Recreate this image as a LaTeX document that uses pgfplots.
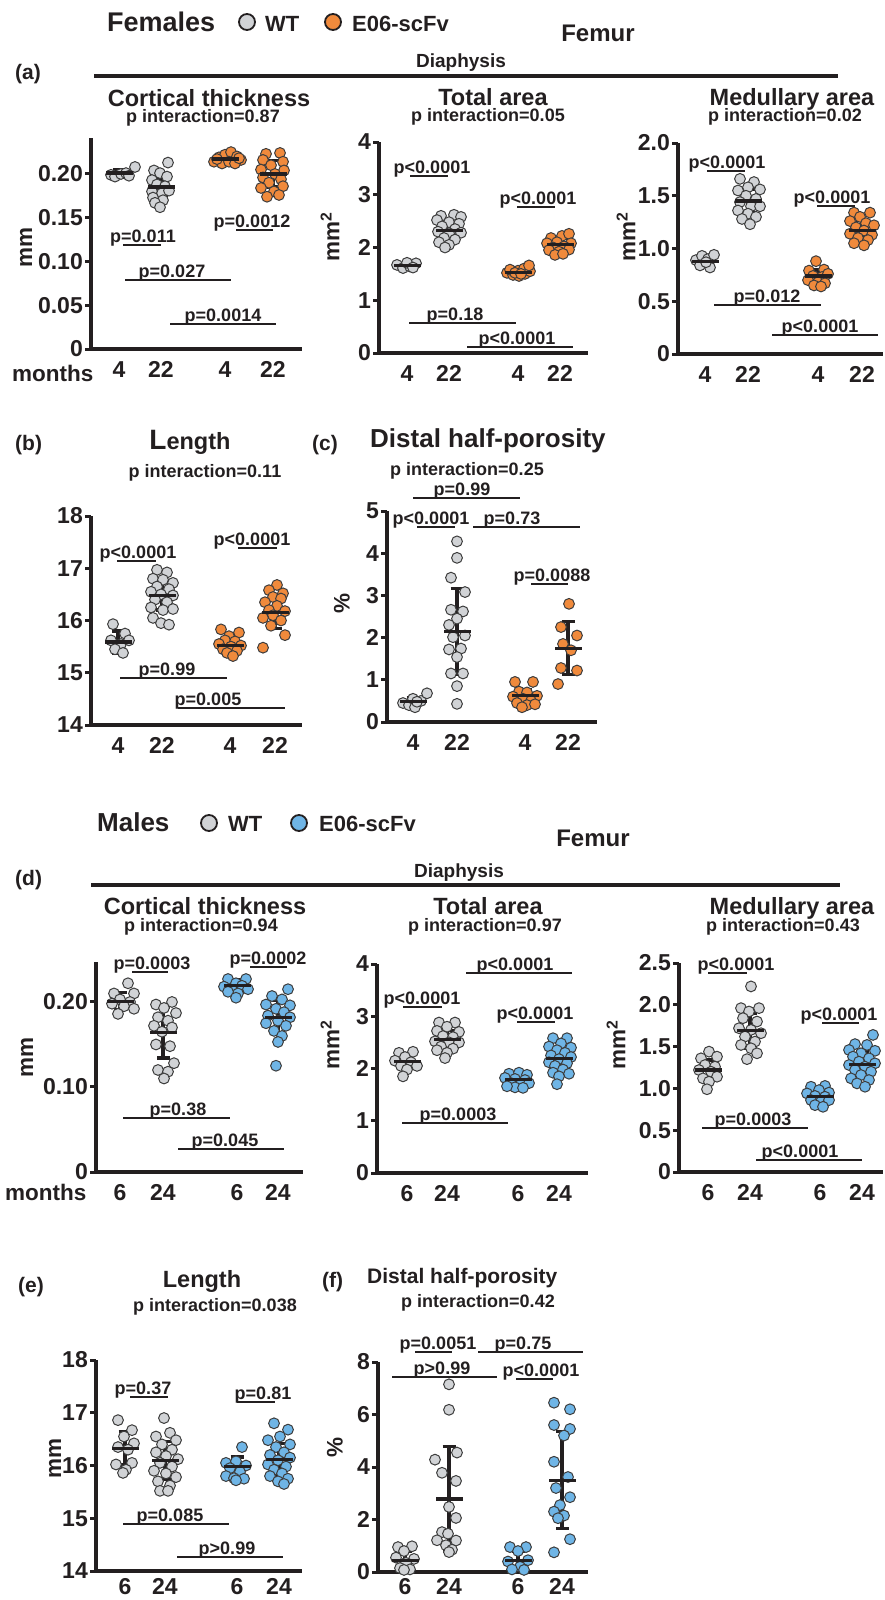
\documentclass[border=0pt]{standalone}
\usepackage{pgfplots}
\pgfplotsset{compat=1.18}
\usepackage{fontspec}
\setmainfont{Liberation Sans}
\definecolor{ink}{HTML}{231F20}
\definecolor{wtgray}{HTML}{D1D3D6}
\definecolor{orng}{HTML}{F08A3C}
\definecolor{lblue}{HTML}{6FB5E6}
\definecolor{edge}{HTML}{3C3C3C}
\newcommand\fs[1]{\fontsize{#1}{#1}\selectfont\bfseries}
\pgfplotsset{
 base/.style={
  scale only axis, clip=false, xmin=0,
  axis x line*=bottom, axis y line*=left,
  axis line style={line width=3.2pt, ink},
  tick align=outside, major tick length=6pt,
  tick style={ink, line width=3pt},
  xtick style={draw=none},
  tick label style={font=\fs{23}, text=ink},
  yticklabel style={inner sep=0pt, xshift=-2pt, anchor=east},
  xticklabel style={inner sep=0pt, anchor=base, yshift=-22pt},
  /pgf/number format/assume math mode=true,
 },
 wt/.style={only marks, mark=*, mark size=5.4pt, mark options={fill=wtgray, draw=edge, line width=1pt}},
 eo/.style={only marks, mark=*, mark size=5.4pt, mark options={fill=orng, draw=edge, line width=1pt}},
 eb/.style={only marks, mark=*, mark size=5.4pt, mark options={fill=lblue, draw=edge, line width=1pt}},
}
\tikzset{
 t/.style={inner sep=0pt, text=ink, anchor=base},
 ptext/.style={inner sep=0pt, text=ink, anchor=base, yshift=2.5pt, font=\fs{18}},
 leg/.style={circle, draw=ink, line width=1.8pt, minimum size=16pt, inner sep=0pt},
 yl/.style={inner sep=0pt, text=ink, rotate=90, font=\fs{22.5}},
}
\newcommand\msd[3]{\addplot[ink, only marks, mark=-, mark size=13.5pt, mark options={line width=3.2pt, ink}, error bars/.cd, y dir=both, y explicit, error bar style={line width=3.2pt, ink}, error mark options={rotate=90, mark size=6.5pt, line width=3.2pt, ink}] coordinates {(#1,#2) +- (0,#3)};}
\newcommand\sig[5]{\addplot[ink, line width=2pt] coordinates {(#1,#3) (#2,#3)}; \node[ptext] at (axis cs:#4,#3) {#5};}

\begin{document}
\begin{tikzpicture}
\path[use as bounding box] (0pt,0pt) rectangle (885pt,-1600pt);

% ---------------- Female header ----------------
\node[t, anchor=base west, font=\fs{27}] at (107pt,-32pt) {Females};
\node[leg, fill=wtgray] at (247pt,-22pt) {};
\node[t, anchor=base west, font=\fs{22}] at (265pt,-32pt) {WT};
\node[leg, fill=orng] at (333pt,-22pt) {};
\node[t, anchor=base west, font=\fs{22}] at (352pt,-32pt) {E06-scFv};
\node[t, font=\fs{24}] at (598pt,-42pt) {Femur};
\node[t, font=\fs{19}] at (461pt,-68pt) {Diaphysis};
\draw[ink, line width=3.2pt] (94pt,-76pt) -- (838pt,-76pt);
\node[t, anchor=base west, font=\fs{21}] at (15pt,-80pt) {(a)};
\node[t, font=\fs{23.5}] at (209pt,-107pt) {Cortical thickness};
\node[t, font=\fs{18}] at (203pt,-123pt) {p interaction=0.87};
\node[t, font=\fs{23.5}] at (493pt,-106pt) {Total area};
\node[t, font=\fs{18}] at (488pt,-122pt) {p interaction=0.05};
\node[t, font=\fs{23.5}] at (792pt,-106pt) {Medullary area};
\node[t, font=\fs{18}] at (785pt,-122pt) {p interaction=0.02};
\node[yl] at (26pt,-247pt) {mm};
\node[yl] at (330pt,-237pt) {mm\textsuperscript{2}};
\node[yl] at (626pt,-237pt) {mm\textsuperscript{2}};
\node[t, anchor=base west, font=\fs{22.5}] at (12pt,-381pt) {months};

% (a) cortical thickness
\begin{axis}[base, at={(91pt,-349pt)}, width=211pt, height=211pt, xmax=211, ymin=0, ymax=0.2411,
 ytick={0,0.05,0.1,0.15,0.2}, yticklabels={0,0.05,0.10,0.15,0.20}, xtick={28,70,134,182}, xticklabels={4,22,4,22}]
\addplot[wt] coordinates {(20,0.199) (24,0.197) (30,0.200) (35,0.201) (38,0.198) (44,0.208)};
\addplot[wt] coordinates {(77,0.213) (63,0.204) (69,0.201) (76,0.197) (61,0.193) (66,0.188) (74,0.186) (61,0.180) (71,0.178) (78,0.181) (62,0.173) (72,0.170) (64,0.167) (69,0.162)};
\addplot[eo] coordinates {(123,0.214) (128,0.219) (134,0.222) (140,0.225) (146,0.220) (150,0.216) (131,0.212) (138,0.214) (144,0.212) (126,0.217) (148,0.218)};
\addplot[eo] coordinates {(175,0.223) (189,0.224) (172,0.216) (192,0.214) (180,0.210) (170,0.205) (193,0.204) (184,0.200) (172,0.196) (190,0.194) (178,0.190) (192,0.186) (170,0.184) (183,0.180) (176,0.174) (188,0.176)};
\msd{28}{0.201}{0.004}\msd{70}{0.185}{0.0115}\msd{134}{0.217}{0.004}\msd{182}{0.200}{0.015}
\sig{32}{70}{0.119}{52}{p=0.011}
\sig{145}{182}{0.136}{161}{p=0.0012}
\sig{34}{140}{0.079}{81}{p=0.027}
\sig{79}{185}{0.029}{132}{p=0.0014}
\end{axis}

% (a) total area
\begin{axis}[base, at={(379pt,-353pt)}, width=209pt, height=211pt, xmax=209, ymin=0, ymax=4,
 ytick={0,1,2,3,4}, yticklabels={0,1,2,3,4}, xtick={28,70,139,181}, xticklabels={4,22,4,22}]
\addplot[wt] coordinates {(18,1.67) (24,1.61) (31,1.64) (37,1.70) (28,1.71) (34,1.62)};
\addplot[wt] coordinates {(62,2.60) (75,2.62) (82,2.58) (58,2.52) (70,2.48) (80,2.45) (63,2.40) (76,2.35) (59,2.30) (70,2.27) (82,2.28) (65,2.18) (76,2.15) (60,2.10) (70,2.05) (66,2.00)};
\addplot[eo] coordinates {(128,1.52) (134,1.48) (140,1.46) (146,1.50) (151,1.55) (131,1.58) (139,1.56) (145,1.60) (150,1.66) (136,1.52) (142,1.50)};
\addplot[eo] coordinates {(172,2.18) (183,2.22) (190,2.26) (168,2.08) (178,2.10) (192,2.08) (174,2.00) (185,2.02) (170,1.95) (180,1.92) (190,1.96) (176,1.86) (184,1.88)};
\msd{28}{1.66}{0.04}\msd{70}{2.32}{0.14}\msd{139}{1.52}{0.06}\msd{181}{2.05}{0.12}
\sig{31}{69}{3.36}{53}{p<0.0001}
\sig{138}{176}{2.77}{159}{p<0.0001}
\sig{30}{137}{0.57}{76}{p=0.18}
\sig{88}{194}{0.12}{138}{p<0.0001}
\end{axis}

% (a) medullary area
\begin{axis}[base, at={(678pt,-354pt)}, width=205pt, height=211pt, xmax=205, ymin=0, ymax=2,
 ytick={0,0.5,1,1.5,2}, yticklabels={0,0.5,1.0,1.5,2.0}, xtick={27,70,140,184}, xticklabels={4,22,4,22}]
\addplot[wt] coordinates {(18,0.89) (24,0.93) (30,0.90) (36,0.94) (22,0.84) (32,0.82) (28,0.87)};
\addplot[wt] coordinates {(62,1.66) (76,1.63) (70,1.58) (82,1.56) (60,1.55) (68,1.50) (78,1.47) (62,1.44) (73,1.40) (82,1.40) (60,1.36) (70,1.33) (78,1.30) (64,1.28) (72,1.23)};
\addplot[eo] coordinates {(138,0.88) (131,0.79) (146,0.80) (135,0.74) (144,0.73) (150,0.76) (130,0.70) (140,0.68) (147,0.67) (136,0.65) (143,0.64)};
\addplot[eo] coordinates {(176,1.34) (192,1.34) (182,1.30) (172,1.26) (188,1.24) (196,1.22) (178,1.20) (186,1.17) (172,1.14) (194,1.13) (180,1.10) (190,1.08) (176,1.05) (186,1.03)};
\msd{27}{0.88}{0.04}\msd{70}{1.45}{0.11}\msd{140}{0.74}{0.06}\msd{184}{1.17}{0.095}
\sig{29}{67}{1.73}{49}{p<0.0001}
\sig{139}{177}{1.40}{154}{p<0.0001}
\sig{36}{143}{0.46}{89}{p=0.012}
\sig{94}{200}{0.18}{142}{p<0.0001}
\end{axis}

% ---------------- Row b / c ----------------
\node[t, anchor=base west, font=\fs{21}] at (15pt,-450pt) {(b)};
\node[t] at (190pt,-449pt) {\fs{28}L\fs{23.5}ength};
\node[t, font=\fs{18}] at (205pt,-477pt) {p interaction=0.11};
\node[t, anchor=base west, font=\fs{21}] at (312pt,-450pt) {(c)};
\node[t, anchor=base west, font=\fs{26}] at (370pt,-447pt) {Distal half-porosity};
\node[t, font=\fs{18}] at (467pt,-475pt) {p interaction=0.25};
\node[yl] at (342pt,-603pt) {\%};

\begin{axis}[base, at={(91pt,-725pt)}, width=211pt, height=209pt, xmax=211, ymin=14, ymax=18,
 ytick={14,15,16,17,18}, yticklabels={14,15,16,17,18}, xtick={27,71,139,184}, xticklabels={4,22,4,22}]
\addplot[wt] coordinates {(22,15.93) (34,15.75) (20,15.62) (30,15.55) (38,15.62) (24,15.45) (32,15.38)};
\addplot[wt] coordinates {(66,16.97) (76,16.92) (62,16.80) (72,16.78) (82,16.72) (66,16.65) (78,16.60) (60,16.55) (70,16.50) (82,16.48) (64,16.40) (76,16.35) (60,16.25) (72,16.20) (82,16.22) (62,16.05) (70,15.95) (78,15.92)};
\addplot[eo] coordinates {(130,15.83) (148,15.77) (138,15.70) (134,15.62) (144,15.60) (128,15.55) (140,15.50) (150,15.52) (132,15.45) (146,15.42) (136,15.38) (142,15.32)};
\addplot[eo] coordinates {(186,16.68) (178,16.58) (192,16.52) (182,16.45) (190,16.42) (174,16.35) (186,16.28) (178,16.20) (194,16.18) (182,16.10) (172,16.05) (190,16.00) (180,15.90) (194,15.72) (172,15.48)};
\msd{27}{15.59}{0.21}\msd{71}{16.48}{0.28}\msd{139}{15.52}{0.18}\msd{184}{16.16}{0.32}
\sig{26}{65}{17.14}{47}{p<0.0001}
\sig{147}{186}{17.39}{161}{p<0.0001}
\sig{29}{136}{14.9}{76}{p=0.99}
\sig{87}{194}{14.33}{117}{p=0.005}
\end{axis}

\begin{axis}[base, at={(387pt,-722pt)}, width=210pt, height=211pt, xmax=210, ymin=0, ymax=5,
 ytick={0,1,2,3,4,5}, yticklabels={0,1,2,3,4,5}, xtick={26,70,138,181}, xticklabels={4,22,4,22}]
\addplot[wt] coordinates {(16,0.45) (22,0.40) (28,0.35) (34,0.50) (40,0.68) (26,0.55) (30,0.48)};
\addplot[wt] coordinates {(70,4.28) (70,3.89) (64,3.42) (78,3.08) (64,2.66) (76,2.62) (70,2.45) (62,2.30) (78,2.05) (66,2.01) (74,1.74) (62,1.72) (70,1.54) (64,1.15) (76,1.15) (70,0.85) (70,0.43)};
\addplot[eo] coordinates {(128,0.95) (146,0.95) (132,0.72) (140,0.70) (150,0.62) (126,0.60) (136,0.55) (144,0.50) (130,0.45) (140,0.40) (148,0.42) (135,0.35)};
\addplot[eo] coordinates {(182,2.80) (174,2.25) (190,2.05) (176,1.85) (184,1.70) (190,1.22) (174,1.28) (171,0.90)};
\msd{26}{0.48}{0.095}\msd{70}{2.15}{1.02}\msd{138}{0.62}{0.15}\msd{181}{1.75}{0.63}
\sig{30}{68}{4.62}{44}{p<0.0001}
\sig{86}{193}{4.62}{125}{p=0.73}
\sig{26}{133}{5.31}{75}{p=0.99}
\sig{144}{181}{3.27}{165}{p=0.0088}
\end{axis}

% ---------------- Male header ----------------
\node[t, anchor=base west, font=\fs{26}] at (97pt,-831pt) {Males};
\node[leg, fill=wtgray] at (209pt,-823pt) {};
\node[t, anchor=base west, font=\fs{22}] at (228pt,-831pt) {WT};
\node[leg, fill=lblue] at (299pt,-823pt) {};
\node[t, anchor=base west, font=\fs{22}] at (319pt,-831pt) {E06-scFv};
\node[t, font=\fs{24}] at (593pt,-846pt) {Femur};
\node[t, font=\fs{19}] at (459pt,-877pt) {Diaphysis};
\draw[ink, line width=3.2pt] (91pt,-885pt) -- (840pt,-885pt);
\node[t, anchor=base west, font=\fs{21}] at (15pt,-885pt) {(d)};
\node[t, font=\fs{23.5}] at (205pt,-914pt) {Cortical thickness};
\node[t, font=\fs{18}] at (201pt,-931pt) {p interaction=0.94};
\node[t, font=\fs{23.5}] at (488pt,-914pt) {Total area};
\node[t, font=\fs{18}] at (485pt,-931pt) {p interaction=0.97};
\node[t, font=\fs{23.5}] at (792pt,-914pt) {Medullary area};
\node[t, font=\fs{18}] at (783pt,-931pt) {p interaction=0.43};
\node[yl] at (27pt,-1057pt) {mm};
\node[yl] at (330pt,-1045pt) {mm\textsuperscript{2}};
\node[yl] at (616pt,-1045pt) {mm\textsuperscript{2}};
\node[t, anchor=base west, font=\fs{22.5}] at (5pt,-1200pt) {months};

\begin{axis}[base, at={(96pt,-1172pt)}, width=207pt, height=210pt, xmax=207, ymin=0, ymax=0.247,
 ytick={0,0.1,0.2}, yticklabels={0,0.10,0.20}, xtick={24,67,141,182}, xticklabels={6,24,6,24}]
\addplot[wt] coordinates {(32,0.222) (18,0.210) (38,0.210) (24,0.203) (34,0.200) (16,0.198) (28,0.195) (38,0.192) (22,0.186)};
\addplot[wt] coordinates {(76,0.200) (60,0.197) (68,0.193) (80,0.187) (62,0.182) (72,0.178) (58,0.172) (76,0.170) (66,0.165) (60,0.150) (74,0.148) (78,0.128) (62,0.120) (72,0.118) (68,0.110)};
\addplot[eb] coordinates {(132,0.227) (150,0.227) (140,0.222) (128,0.218) (146,0.219) (136,0.214) (152,0.215) (142,0.210) (132,0.212) (140,0.205)};
\addplot[eb] coordinates {(192,0.215) (176,0.207) (186,0.203) (170,0.197) (194,0.196) (180,0.192) (188,0.188) (172,0.184) (194,0.182) (182,0.178) (170,0.175) (190,0.172) (178,0.166) (186,0.160) (182,0.153) (180,0.125)};
\msd{24}{0.201}{0.010}\msd{67}{0.164}{0.030}\msd{141}{0.219}{0.007}\msd{182}{0.182}{0.020}
\sig{36}{72}{0.235}{56}{p=0.0003}
\sig{154}{191}{0.241}{172}{p=0.0002}
\sig{27}{134}{0.0635}{82}{p=0.38}
\sig{82}{188}{0.027}{129}{p=0.045}
\end{axis}

\begin{axis}[base, at={(377pt,-1173pt)}, width=211pt, height=209pt, xmax=211, ymin=0, ymax=4,
 ytick={0,1,2,3,4}, yticklabels={0,1,2,3,4}, xtick={30,70,141,182}, xticklabels={6,24,6,24}]
\addplot[wt] coordinates {(22,2.30) (36,2.32) (28,2.22) (18,2.15) (34,2.12) (40,2.05) (24,2.05) (30,1.98) (26,1.85)};
\addplot[wt] coordinates {(62,2.88) (78,2.88) (70,2.80) (60,2.72) (82,2.70) (66,2.62) (76,2.60) (58,2.52) (72,2.50) (82,2.50) (64,2.42) (76,2.38) (60,2.35) (70,2.30) (68,2.20)};
\addplot[eb] coordinates {(132,1.90) (142,1.92) (150,1.88) (128,1.82) (138,1.80) (148,1.78) (134,1.72) (144,1.70) (152,1.72) (138,1.64) (146,1.63) (130,1.66)};
\addplot[eb] coordinates {(176,2.58) (190,2.58) (184,2.48) (172,2.42) (194,2.40) (180,2.35) (188,2.30) (174,2.25) (194,2.22) (182,2.18) (172,2.12) (190,2.10) (178,2.05) (186,1.98) (176,1.92) (192,1.90) (182,1.85) (180,1.70)};
\msd{30}{2.14}{0.12}\msd{70}{2.55}{0.18}\msd{141}{1.79}{0.09}\msd{182}{2.19}{0.20}
\sig{26}{65}{3.18}{45}{p<0.0001}
\sig{89}{195}{3.83}{138}{p<0.0001}
\sig{140}{178}{2.89}{158}{p<0.0001}
\sig{25}{131}{0.96}{81}{p=0.0003}
\end{axis}

\begin{axis}[base, at={(679pt,-1172pt)}, width=204pt, height=209pt, xmax=204, ymin=0, ymax=2.5,
 ytick={0,0.5,1,1.5,2,2.5}, yticklabels={0,0.5,1.0,1.5,2.0,2.5}, xtick={29,71,141,183}, xticklabels={6,24,6,24}]
\addplot[wt] coordinates {(30,1.44) (22,1.36) (38,1.38) (26,1.28) (36,1.26) (20,1.22) (32,1.20) (24,1.12) (38,1.14) (30,1.08) (28,0.99)};
\addplot[wt] coordinates {(72,2.22) (62,1.96) (80,1.96) (70,1.92) (64,1.84) (78,1.80) (60,1.72) (72,1.70) (82,1.66) (66,1.62) (76,1.56) (62,1.52) (72,1.48) (78,1.42) (68,1.35)};
\addplot[eb] coordinates {(132,1.02) (146,1.03) (140,0.98) (128,0.94) (150,0.95) (136,0.91) (146,0.90) (132,0.86) (142,0.84) (150,0.86) (136,0.80) (144,0.78)};
\addplot[eb] coordinates {(194,1.64) (176,1.53) (188,1.52) (170,1.46) (196,1.45) (182,1.42) (174,1.38) (190,1.36) (180,1.32) (196,1.30) (170,1.28) (186,1.26) (176,1.22) (192,1.20) (182,1.16) (172,1.12) (190,1.10) (178,1.06) (186,1.02)};
\msd{29}{1.22}{0.12}\msd{71}{1.69}{0.21}\msd{141}{0.90}{0.10}\msd{183}{1.29}{0.155}
\sig{29}{68}{2.38}{57}{p<0.0001}
\sig{143}{180}{1.78}{160}{p<0.0001}
\sig{23}{129}{0.53}{74}{p=0.0003}
\sig{77}{183}{0.14}{121}{p<0.0001}
\end{axis}

% ---------------- Row e / f ----------------
\node[t, anchor=base west, font=\fs{21}] at (18pt,-1292pt) {(e)};
\node[t, font=\fs{23.5}] at (202pt,-1287pt) {Length};
\node[t, font=\fs{18}] at (215pt,-1311pt) {p interaction=0.038};
\node[t, anchor=base west, font=\fs{21}] at (322pt,-1287pt) {(f)};
\node[t, anchor=base west, font=\fs{21}] at (367pt,-1283pt) {Distal half-porosity};
\node[t, font=\fs{18}] at (478pt,-1307pt) {p interaction=0.42};
\node[yl] at (55pt,-1458pt) {mm};
\node[yl] at (335pt,-1447pt) {\%};

\begin{axis}[base, at={(96pt,-1571pt)}, width=206pt, height=211pt, xmax=206, ymin=14, ymax=18,
 ytick={14,15,16,17,18}, yticklabels={14,15,16,17,18}, xtick={29,69,141,183}, xticklabels={6,24,6,24},
 xticklabel style={yshift=5pt}]
\addplot[wt] coordinates {(22,16.86) (36,16.67) (28,16.55) (38,16.42) (22,16.35) (32,16.30) (20,16.02) (36,16.05) (30,15.92) (27,15.86)};
\addplot[wt] coordinates {(68,16.90) (74,16.62) (60,16.55) (80,16.48) (66,16.40) (76,16.30) (60,16.25) (70,16.18) (82,16.12) (64,16.05) (76,15.98) (58,15.90) (70,15.85) (80,15.78) (62,15.70) (74,15.62) (64,15.52) (72,15.52)};
\addplot[eb] coordinates {(146,16.35) (130,16.05) (140,16.08) (150,16.00) (134,15.95) (144,15.88) (130,15.80) (138,15.76) (148,15.75) (140,15.72)};
\addplot[eb] coordinates {(178,16.80) (192,16.68) (184,16.55) (172,16.48) (194,16.40) (180,16.35) (188,16.25) (174,16.20) (194,16.15) (182,16.10) (172,16.02) (190,15.98) (178,15.92) (186,15.85) (174,15.80) (192,15.75) (182,15.70) (188,15.65)};
\msd{29}{16.33}{0.32}\msd{69}{16.10}{0.36}\msd{141}{15.98}{0.18}\msd{183}{16.12}{0.30}
\sig{34}{72}{17.3}{47}{p=0.37}
\sig{141}{179}{17.2}{167}{p=0.81}
\sig{27}{133}{14.89}{74}{p=0.085}
\sig{81}{187}{14.27}{131}{p>0.99}
\end{axis}

\begin{axis}[base, at={(378pt,-1572pt)}, width=210pt, height=210pt, xmax=210, ymin=0, ymax=8,
 ytick={0,2,4,6,8}, yticklabels={0,2,4,6,8}, xtick={27,71,140,184}, xticklabels={6,24,6,24},
 xticklabel style={yshift=6pt}]
\addplot[wt] coordinates {(20,0.95) (34,0.98) (26,0.80) (18,0.55) (36,0.50) (28,0.35) (22,0.15) (32,0.10) (26,0.08)};
\addplot[wt] coordinates {(71,7.15) (71,6.18) (79,4.55) (57,4.28) (64,3.78) (78,3.47) (71,2.48) (78,2.06) (64,1.52) (70,1.46) (59,1.21) (78,1.20) (68,1.02) (74,0.85) (71,0.76)};
\addplot[eb] coordinates {(132,0.95) (148,0.95) (140,0.80) (150,0.45) (130,0.40) (142,0.20) (134,0.10) (146,0.08)};
\addplot[eb] coordinates {(176,6.45) (192,6.20) (176,5.60) (192,5.45) (186,5.20) (176,4.20) (190,3.62) (178,3.20) (192,2.85) (182,2.55) (176,2.30) (186,2.15) (180,2.05) (192,1.25) (176,0.75)};
\msd{27}{0.45}{0.34}\msd{71}{2.78}{2.0}\msd{140}{0.45}{0.35}\msd{184}{3.50}{1.84}
\sig{37}{74}{8.4}{60}{p=0.0051}
\sig{100}{205}{8.4}{145}{p=0.75}
\sig{14}{119}{7.43}{64}{p>0.99}
\sig{138}{175}{7.35}{163}{p<0.0001}
\end{axis}
\end{tikzpicture}
\end{document}
